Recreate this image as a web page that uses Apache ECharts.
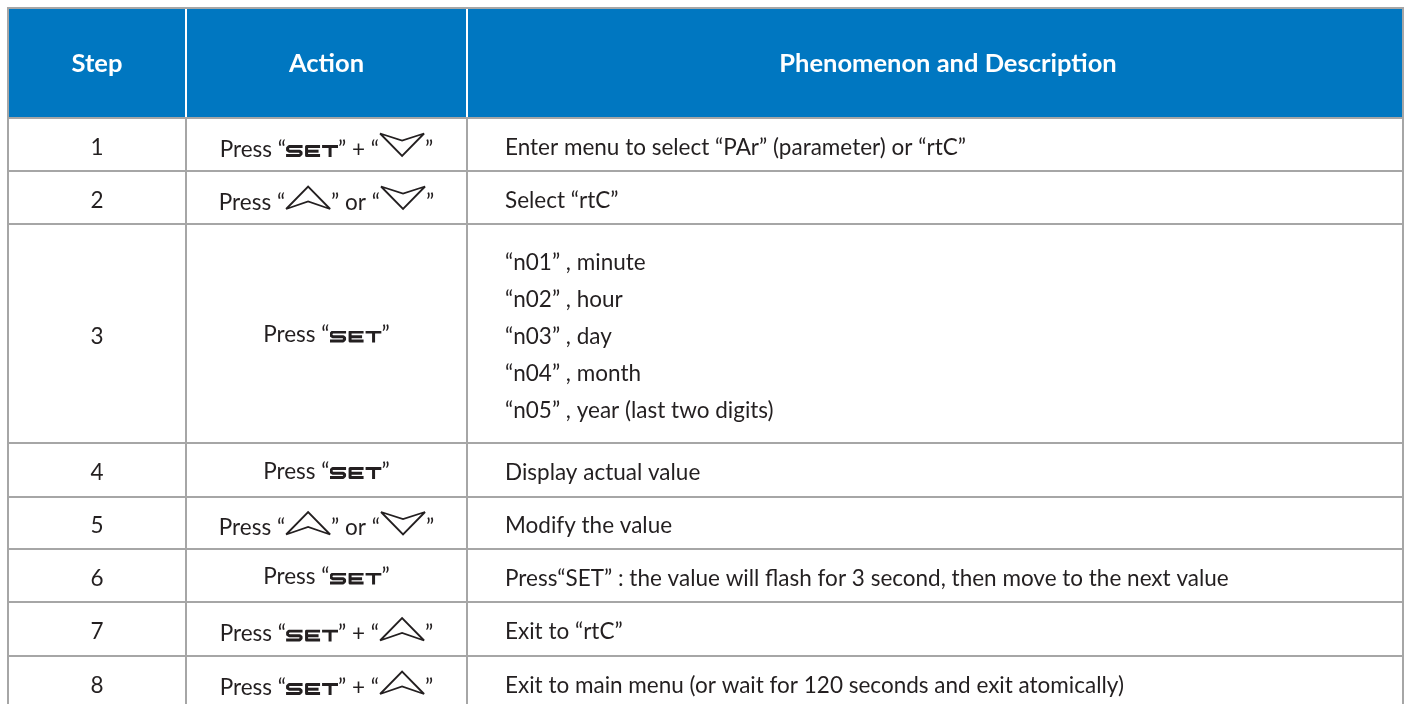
<!DOCTYPE html>
<html>
<head>
<meta charset="utf-8">
<script src="https://cdn.jsdelivr.net/npm/echarts@6/dist/echarts.min.js"></script>
<style>
html,body{margin:0;padding:0;background:#fff;}
#main{width:1406px;height:704px;}
</style>
</head>
<body>
<div id="main"></div>
<script>
// ---- data ----
const headers = ['Step', 'Action', 'Phenomenon and Description'];
const steps = ['1', '2', '3', '4', '5', '6', '7', '8'];
const actions = [
  'Press “[SET]” + “[DOWN]”',
  'Press “[UP]” or “[DOWN]”',
  'Press “[SET]”',
  'Press “[SET]”',
  'Press “[UP]” or “[DOWN]”',
  'Press “[SET]”',
  'Press “[SET]” + “[UP]”',
  'Press “[SET]” + “[UP]”'
];
const descriptions = [
  ['Enter menu to select “PAr” (parameter) or “rtC”'],
  ['Select “rtC”'],
  ['“n01” , minute', '“n02” , hour', '“n03” , day', '“n04” , month', '“n05” , year (last two digits)'],
  ['Display actual value'],
  ['Modify the value'],
  ['Press“SET” : the value will flash for 3 second, then move to the next value'],
  ['Exit to “rtC”'],
  ['Exit to main menu (or wait for 120 seconds and exit atomically)']
];

// ---- layout / style ----
const colEdges = [8, 186, 467, 1403];
const rowEdges = [8, 118, 171, 224, 443, 497, 549, 602, 656, 709];
const headerDx = [0, 0, 13];
const BLUE = '#0077c1', GRID = '#a6a6a6', INK = '#231f20';
const FONT = 'Lato';
const FS = 22.5, HFS = 25.5, LH = 37, TEXT_DY = 3;

function svgUrl(w, h, body) {
  const s = '<svg xmlns="http://www.w3.org/2000/svg" width="' + w + '" height="' + h + '" viewBox="0 0 ' + w + ' ' + h + '">' + body + '</svg>';
  return 'data:image/svg+xml;charset=utf-8,' + encodeURIComponent(s);
}
const PADB = 6;
const setImg = svgUrl(52, 12 + PADB,
  '<g fill="none" stroke="' + INK + '" stroke-width="3" stroke-linejoin="round">' +
  '<polyline points="16.5,1.5 3,1.5 1.5,3 1.5,5 3,6.2 13.5,6.2 15,7.5 15,9 13.5,10.5 0,10.5"/>' +
  '<polyline points="34,1.5 20.5,1.5 20.5,10.5 34,10.5"/><line x1="20.5" y1="6.2" x2="32.5" y2="6.2"/>' +
  '<line x1="36" y1="1.5" x2="52" y2="1.5"/><line x1="44" y1="1.5" x2="44" y2="12"/></g>');
const upImg = svgUrl(46, 25 + PADB,
  '<polygon points="1,24 23,1.5 45,24 23,16.5" fill="none" stroke="' + INK + '" stroke-width="1.8" stroke-linejoin="miter"/>');
const downImg = svgUrl(46, 25 + PADB,
  '<polygon points="1,1.5 23,24 45,1.5 23,8.5" fill="none" stroke="' + INK + '" stroke-width="1.8" stroke-linejoin="miter"/>');

const rich = {
  set: { backgroundColor: { image: setImg }, width: 52, height: 12 + PADB, verticalAlign: 'bottom' },
  up: { backgroundColor: { image: upImg }, width: 46, height: 25 + PADB, verticalAlign: 'bottom' },
  down: { backgroundColor: { image: downImg }, width: 46, height: 25 + PADB, verticalAlign: 'bottom' },
  t: { fontFamily: FONT, fontSize: FS, fill: INK, lineHeight: 24, verticalAlign: 'bottom', padding: [0, 0, 2, 0] }
};
function toRich(str) {
  return str.split(/(\[SET\]|\[UP\]|\[DOWN\])/).filter(s => s.length).map(s => {
    if (s === '[SET]') return '{set| }';
    if (s === '[UP]') return '{up| }';
    if (s === '[DOWN]') return '{down| }';
    return '{t|' + s + '}';
  }).join('');
}

const elements = [];
const L = colEdges[0], R = colEdges[colEdges.length - 1];
elements.push({ type: 'rect', shape: { x: L, y: rowEdges[0], width: R - L, height: rowEdges[1] - rowEdges[0] }, style: { fill: BLUE }, z: 1 });
rowEdges.forEach(y => elements.push({ type: 'line', shape: { x1: L - 1, y1: y, x2: R + 1, y2: y }, style: { stroke: GRID, lineWidth: 2 }, z: 3 }));
[L, R].forEach(x => elements.push({ type: 'line', shape: { x1: x, y1: rowEdges[0], x2: x, y2: rowEdges[rowEdges.length - 1] }, style: { stroke: GRID, lineWidth: 2 }, z: 3 }));
colEdges.slice(1, -1).forEach(x => {
  elements.push({ type: 'line', shape: { x1: x, y1: rowEdges[0] + 1, x2: x, y2: rowEdges[1] - 1 }, style: { stroke: '#ffffff', lineWidth: 2 }, z: 2 });
  elements.push({ type: 'line', shape: { x1: x, y1: rowEdges[1], x2: x, y2: rowEdges[rowEdges.length - 1] }, style: { stroke: GRID, lineWidth: 2 }, z: 2 });
});
headers.forEach((h, i) => {
  elements.push({ type: 'text', x: (colEdges[i] + colEdges[i + 1]) / 2 + headerDx[i], y: (rowEdges[0] + rowEdges[1]) / 2 + 1, z: 5,
    style: { text: h, fill: '#ffffff', fontFamily: FONT, fontWeight: 'bold', fontSize: HFS, align: 'center', verticalAlign: 'middle' } });
});
steps.forEach((s, r) => {
  const cy = (rowEdges[r + 1] + rowEdges[r + 2]) / 2 + TEXT_DY;
  elements.push({ type: 'text', x: (colEdges[0] + colEdges[1]) / 2, y: cy, z: 5,
    style: { text: s, fill: INK, fontFamily: FONT, fontSize: FS, align: 'center', verticalAlign: 'middle' } });
  elements.push({ type: 'text', x: (colEdges[1] + colEdges[2]) / 2, y: cy, z: 5,
    style: { text: toRich(actions[r]), rich: rich, fill: INK, fontFamily: FONT, fontSize: FS, align: 'center', verticalAlign: 'middle' } });
  elements.push({ type: 'text', x: colEdges[2] + 38, y: cy, z: 5,
    style: { text: descriptions[r].join('\n'), fill: INK, fontFamily: FONT, fontSize: FS, lineHeight: LH, align: 'left', verticalAlign: 'middle' } });
});

const chart = echarts.init(document.getElementById('main'), null, { renderer: 'canvas' });
chart.setOption({ backgroundColor: '#ffffff', animation: false, graphic: { elements: elements } });
</script>
</body>
</html>
